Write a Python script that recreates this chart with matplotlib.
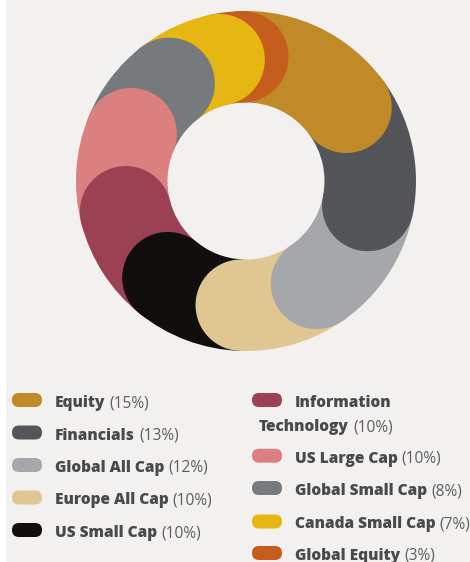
import matplotlib.pyplot as plt
from matplotlib.patches import Circle, FancyBboxPatch, Rectangle
import numpy as np

labels = ["Equity", "Financials", "Global All Cap", "Europe All Cap", "US Small Cap",
          "Information Technology", "US Large Cap", "Global Small Cap",
          "Canada Small Cap", "Global Equity"]
values = [15, 13, 12, 10, 10, 10, 10, 8, 7, 3]
colors = ["#c08a28", "#535559", "#a6a7aa", "#e0c690", "#100f0d",
          "#9c4153", "#db7f7f", "#767a7c", "#e6b712", "#c55d1e"]

W, H = 470, 562
BG = "#f2f1ef"
TXT = "#4a4a4a"
FONT = ["Open Sans", "DejaVu Sans"]

fig = plt.figure(figsize=(W / 100, H / 100), dpi=100)
fig.patch.set_facecolor("white")
fig.add_artist(Rectangle((6 / W, 0), 1, 1, transform=fig.transFigure,
                         facecolor=BG, edgecolor="none", zorder=-10))

# donut: centre (246, 181) px, outer r 170, inner r 78.5
R_out = 170
ring = 91.5 / R_out
ax = fig.add_axes([(246 - R_out) / W, (H - 181 - R_out) / H, 2 * R_out / W, 2 * R_out / H])
wedges, _ = ax.pie(values, colors=colors, startangle=91.5, counterclock=False,
                   radius=1, wedgeprops=dict(width=ring, linewidth=0))
# round cap at the clockwise end of each slice, drawn over the next slice
r_mid = 1 - ring / 2
z = 3
for w in reversed(wedges):
    a = np.deg2rad(w.theta1)
    ax.add_patch(Circle((r_mid * np.cos(a), r_mid * np.sin(a)), ring / 2,
                        facecolor=w.get_facecolor(), edgecolor="none", zorder=z))
    z += 1
ax.set_xlim(-1, 1)
ax.set_ylim(-1, 1)
ax.set_aspect("equal")
ax.axis("off")

# legend in pixel coordinates
lg = fig.add_axes([0, 0, 1, 1])
lg.set_xlim(0, W)
lg.set_ylim(H, 0)
lg.axis("off")
lg.patch.set_alpha(0)

left_rows = [407, 439.5, 472, 504.5, 537]
right_rows = [407, 462.7, 495, 528.5, 560]
fs = 11.2

renderer = fig.canvas.get_renderer()


def entry(sx, tx, base, color, label, pct, wrap_x=None):
    lg.add_patch(FancyBboxPatch((sx, base - 14), 30, 14,
                                boxstyle="round,pad=0,rounding_size=7",
                                facecolor=color, edgecolor="none"))
    if wrap_x is not None:
        first, second = label.split(" ", 1)
        lg.text(tx, base, first, fontsize=fs, fontweight=800, color=TXT,
                family=FONT, va="baseline", ha="left")
        base = base + 24
        tx = wrap_x
        label = second
    t = lg.text(tx, base, label, fontsize=fs, fontweight=800, color=TXT,
                family=FONT, va="baseline", ha="left")
    bb = t.get_window_extent(renderer)
    lg.text(bb.x1 + 4, base, "(%d%%)" % pct, fontsize=fs, fontweight="normal",
            color="#5e5e5e", family=FONT, va="baseline", ha="left")


for i in range(5):
    entry(12, 55, left_rows[i], colors[i], labels[i], values[i])
entry(252, 295, right_rows[0], colors[5], labels[5], values[5], wrap_x=259)
for j in range(1, 5):
    i = 5 + j
    entry(252, 295, right_rows[j], colors[i], labels[i], values[i])

fig.savefig("out.png", dpi=100, facecolor=fig.get_facecolor())
